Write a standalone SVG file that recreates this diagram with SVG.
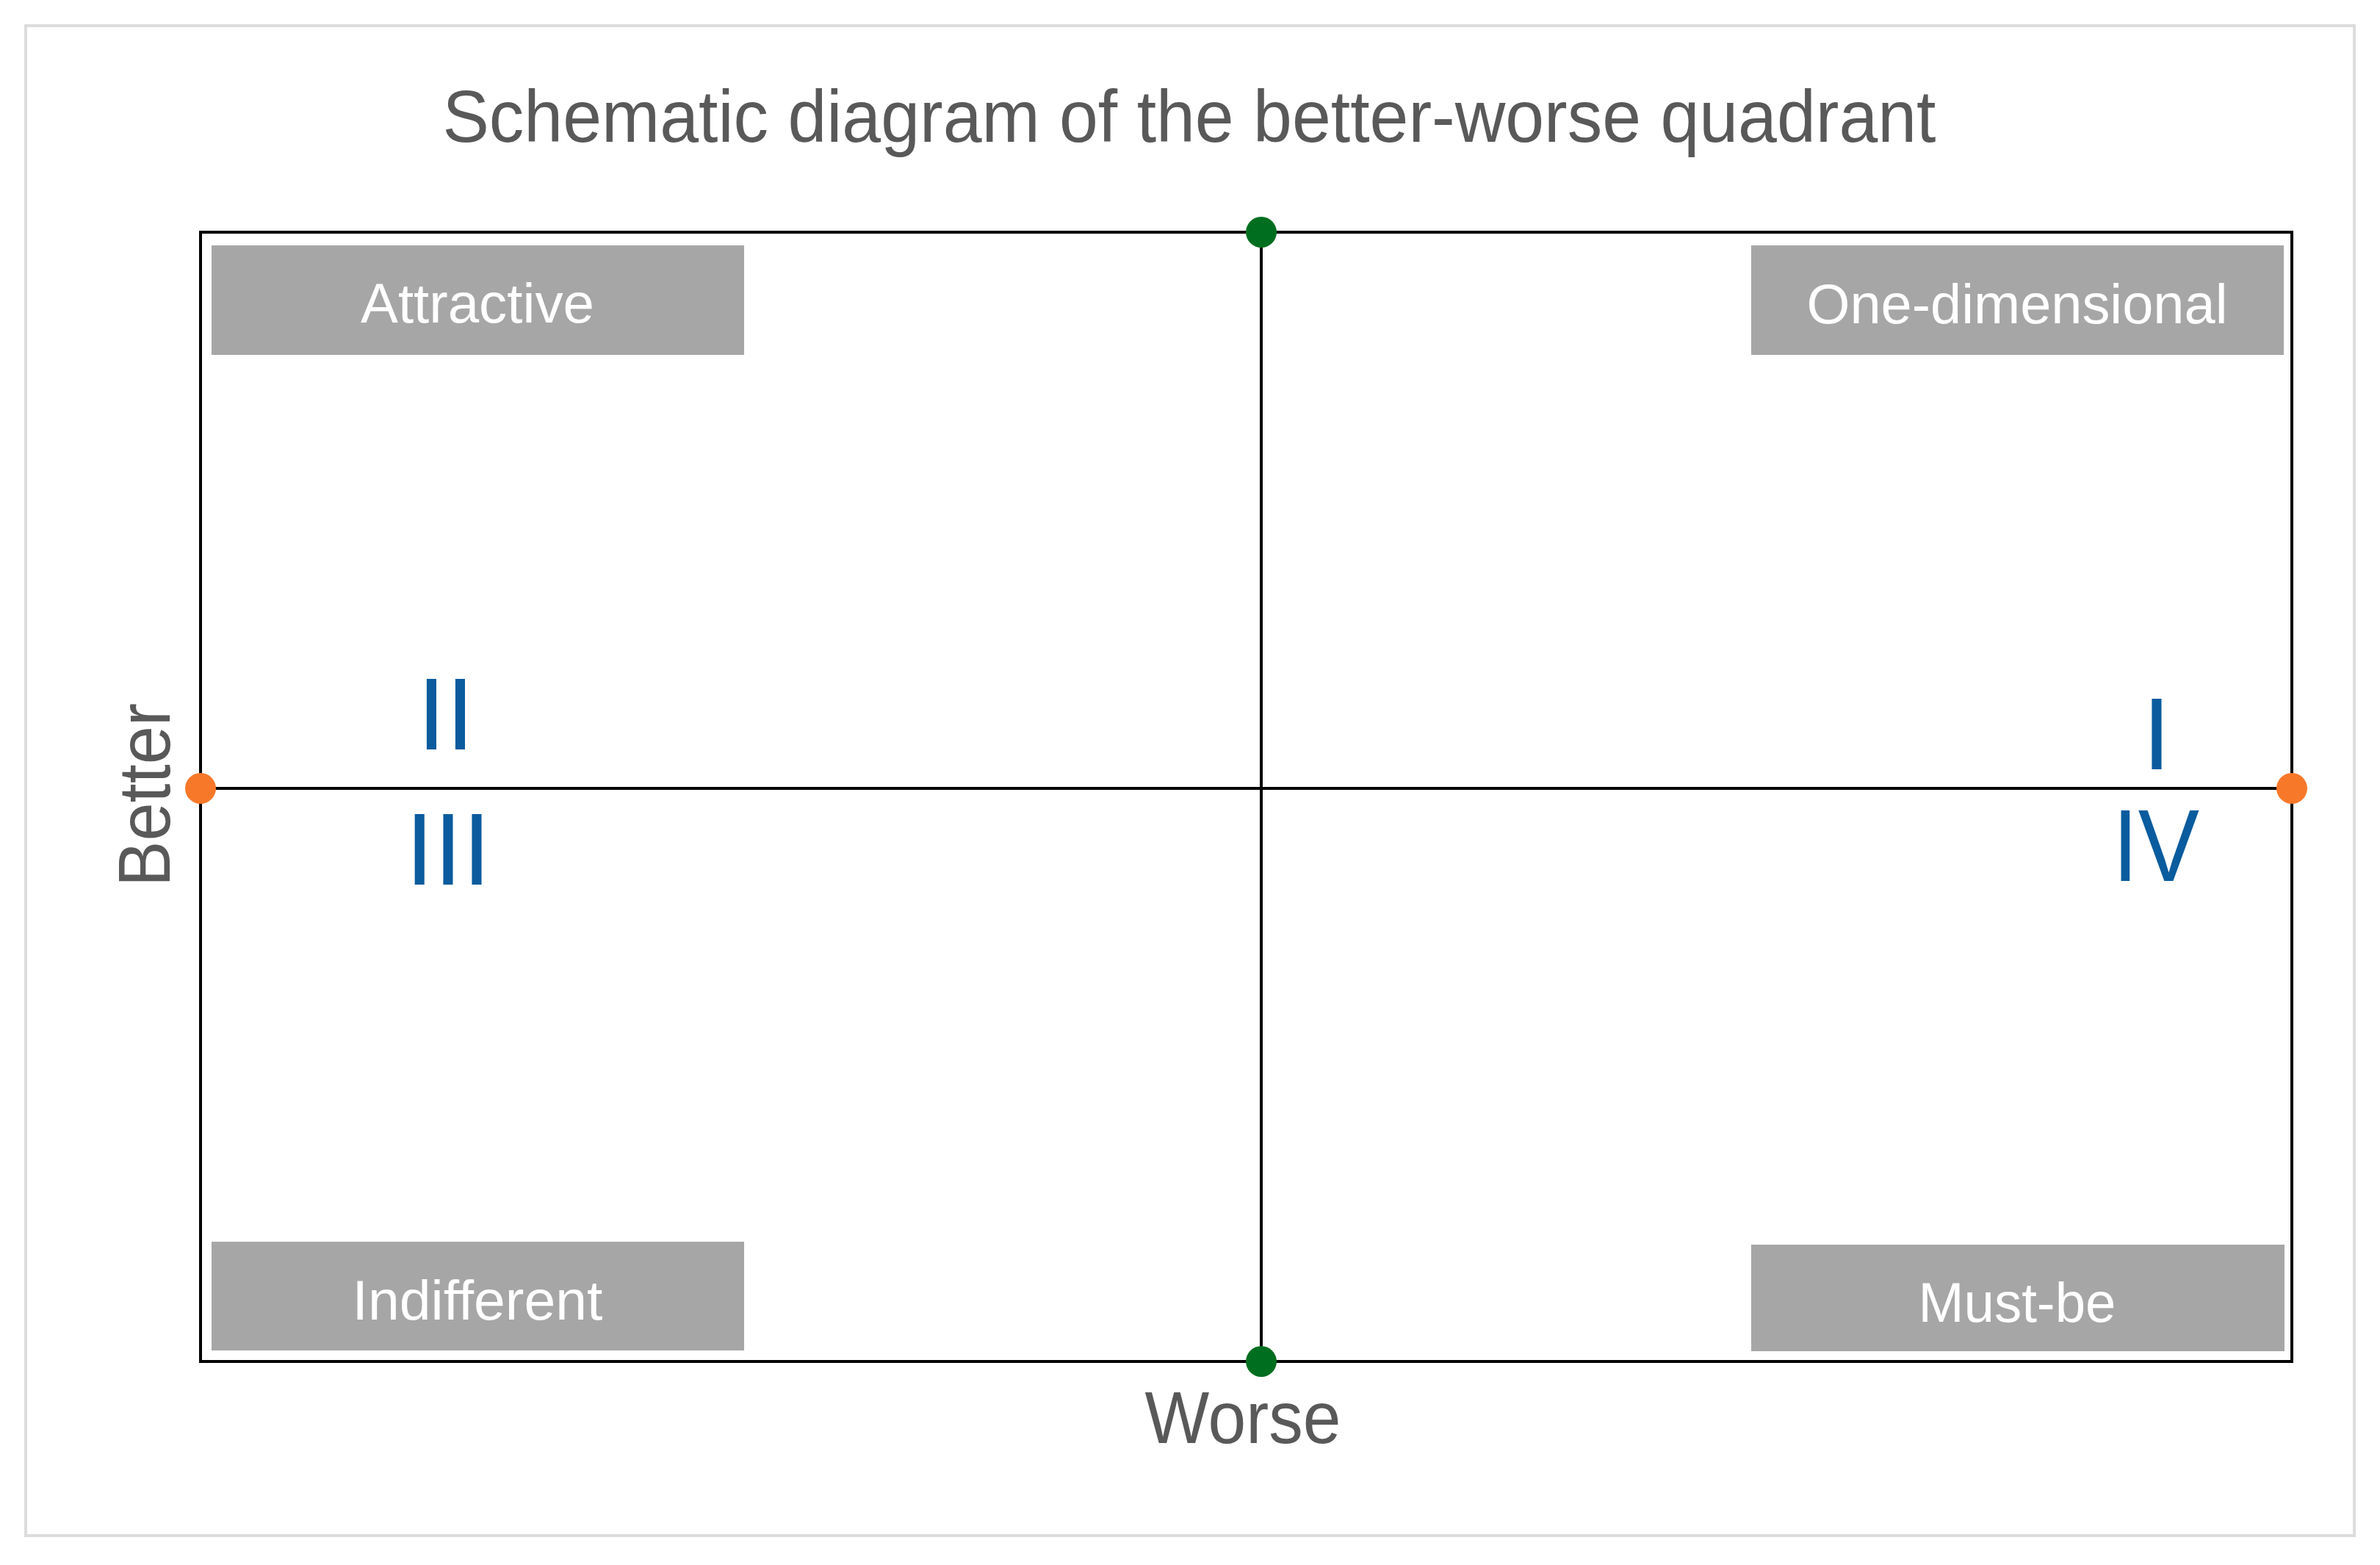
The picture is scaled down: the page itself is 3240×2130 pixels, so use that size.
<svg xmlns="http://www.w3.org/2000/svg" width="3240" height="2130" viewBox="0 0 3240 2130">
  <style>
    .frame { fill: #FFFFFF; stroke: #DCDCDC; stroke-width: 4; }
    .plot { fill: none; stroke: #000000; stroke-width: 4; }
    .axis { stroke: #000000; stroke-width: 4; fill: none; }
    .box { fill: #A6A6A6; stroke: none; }
    .boxtxt { font-family: "Liberation Sans", Arial, sans-serif; font-size: 76px; fill: #FFFFFF; text-anchor: middle; }
    .title { font-family: "Liberation Sans", Arial, sans-serif; font-size: 100px; fill: #595959; text-anchor: middle; }
    .axlabel { font-family: "Liberation Sans", Arial, sans-serif; font-size: 100px; fill: #595959; text-anchor: middle; }
    .roman { font-family: "Liberation Sans", Arial, sans-serif; font-size: 140px; fill: #0A5C9E; text-anchor: middle; }
    .green { fill: #006E1F; }
    .orange { fill: #F8782A; }
  </style>
  <rect x="0" y="0" width="3240" height="2130" fill="#FFFFFF"/>
  <rect class="frame" x="35" y="35" width="3170" height="2055"/>

  <g id="title">
    <text class="title" x="1619" y="193" textLength="2033" lengthAdjust="spacingAndGlyphs">Schematic diagram of the better-worse quadrant</text>
  </g>

  <g id="plot-area">
    <rect class="plot" x="273" y="316" width="2847" height="1537"/>
  </g>

  <g id="connectors">
    <line class="axis" x1="1717" y1="316" x2="1717" y2="1853"/>
    <line class="axis" x1="273" y1="1073" x2="3120" y2="1073"/>
  </g>

  <g id="attractive">
    <rect class="box" x="288" y="334" width="725" height="149"/>
    <text class="boxtxt" x="650" y="439" textLength="318" lengthAdjust="spacingAndGlyphs">Attractive</text>
  </g>
  <g id="one-dimensional">
    <rect class="box" x="2384" y="334" width="725" height="149"/>
    <text class="boxtxt" x="2746" y="440" textLength="573" lengthAdjust="spacingAndGlyphs">One-dimensional</text>
  </g>
  <g id="indifferent">
    <rect class="box" x="288" y="1690" width="725" height="148"/>
    <text class="boxtxt" x="650" y="1796" textLength="341" lengthAdjust="spacingAndGlyphs">Indifferent</text>
  </g>
  <g id="must-be">
    <rect class="box" x="2384" y="1694" width="726" height="145"/>
    <text class="boxtxt" x="2746" y="1799" textLength="269" lengthAdjust="spacingAndGlyphs">Must-be</text>
  </g>

  <g id="quadrant-I"><text class="roman" x="2936" y="1047">I</text></g>
  <g id="quadrant-II"><text class="roman" x="607" y="1020">II</text></g>
  <g id="quadrant-III"><text class="roman" x="610" y="1204">III</text></g>
  <g id="quadrant-IV"><text class="roman" x="2935" y="1199" textLength="118" lengthAdjust="spacingAndGlyphs">IV</text></g>

  <g id="better-label">
    <text class="axlabel" x="231" y="1082" transform="rotate(-90 231 1082)" textLength="250" lengthAdjust="spacingAndGlyphs">Better</text>
  </g>
  <g id="worse-label">
    <text class="axlabel" x="1692" y="1964" textLength="267" lengthAdjust="spacingAndGlyphs">Worse</text>
  </g>

  <g id="dot-top"><circle class="green" cx="1717" cy="316" r="21"/></g>
  <g id="dot-bottom"><circle class="green" cx="1717" cy="1853" r="21"/></g>
  <g id="dot-left"><circle class="orange" cx="273" cy="1073" r="21"/></g>
  <g id="dot-right"><circle class="orange" cx="3120" cy="1073" r="21"/></g>
</svg>
